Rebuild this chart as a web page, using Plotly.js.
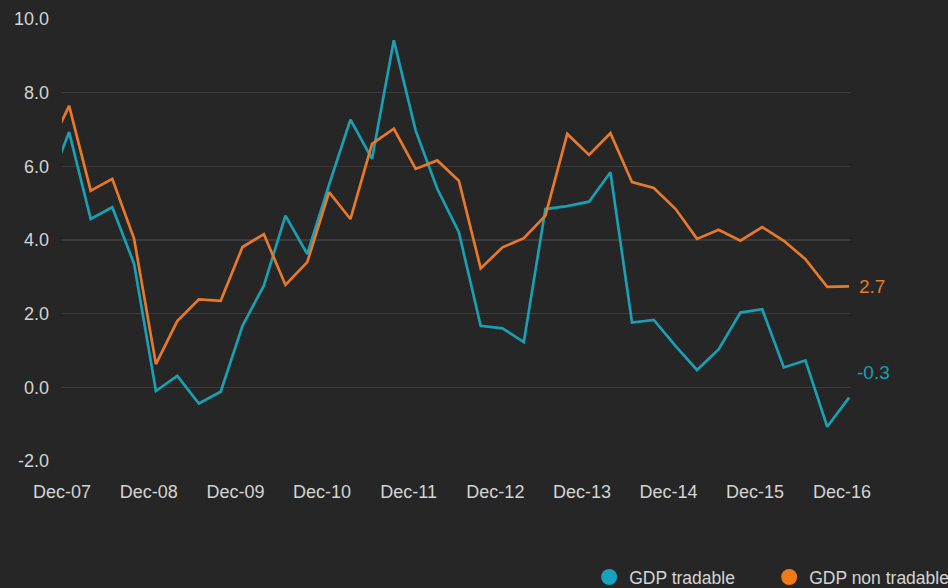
<!DOCTYPE html>
<html>
<head>
<meta charset="utf-8">
<script src="https://cdn.plot.ly/plotly-3.0.1.min.js"></script>
<style>
html,body{margin:0;padding:0;background:#262626;}
#chart{width:948px;height:588px;}
</style>
</head>
<body>
<div id="chart"></div>
<script>
// Quarter-end dates (first one lies just left of the visible range)
const dates = [
  '2007-09-30','2007-12-31',
  '2008-03-31','2008-06-30','2008-09-30','2008-12-31',
  '2009-03-31','2009-06-30','2009-09-30','2009-12-31',
  '2010-03-31','2010-06-30','2010-09-30','2010-12-31',
  '2011-03-31','2011-06-30','2011-09-30','2011-12-31',
  '2012-03-31','2012-06-30','2012-09-30','2012-12-31',
  '2013-03-31','2013-06-30','2013-09-30','2013-12-31',
  '2014-03-31','2014-06-30','2014-09-30','2014-12-31',
  '2015-03-31','2015-06-30','2015-09-30','2015-12-31',
  '2016-03-31','2016-06-30','2016-09-30','2016-12-31'
];
const gdpTradable = [
  5.4, 6.93,
  4.57, 4.89, 3.35, -0.10,
  0.31, -0.44, -0.12, 1.67,
  2.76, 4.66, 3.62, 5.5,
  7.27, 6.20, 9.42, 6.97,
  5.39, 4.21, 1.67, 1.60,
  1.23, 4.84, 4.92, 5.04,
  5.84, 1.76, 1.83, 1.12,
  0.47, 1.03, 2.03, 2.12,
  0.54, 0.73, -1.07, -0.28
];
const gdpNonTradable = [
  6.4, 7.64,
  5.34, 5.66, 4.03, 0.63,
  1.80, 2.39, 2.35, 3.81,
  4.16, 2.78, 3.40, 5.30,
  4.57, 6.61, 7.02, 5.93,
  6.16, 5.61, 3.23, 3.80,
  4.05, 4.66, 6.88, 6.31,
  6.90, 5.57, 5.41, 4.84,
  4.03, 4.28, 3.98, 4.35,
  3.98, 3.48, 2.73, 2.74
];
const seriesNames = ['GDP tradable', 'GDP non tradable'];
const tickDates = ['2007-12-01','2008-12-01','2009-12-01','2010-12-01','2011-12-01',
                   '2012-12-01','2013-12-01','2014-12-01','2015-12-01','2016-12-01'];
const tickLabels = ['Dec-07','Dec-08','Dec-09','Dec-10','Dec-11',
                    'Dec-12','Dec-13','Dec-14','Dec-15','Dec-16'];
const yTicks = [-2, 0, 2, 4, 6, 8, 10];
const yTickLabels = ['-2.0','0.0','2.0','4.0','6.0','8.0','10.0'];

const teal = '#1a9fb3';
const orange = '#e8792a';
const tealLegend = '#18a2bb';
const orangeLegend = '#f07a1a';
const FONT = 'Liberation Sans, Arial, sans-serif';

const last = dates.length - 1;

const traces = [
  {x: dates, y: gdpTradable, type: 'scatter', mode: 'lines', name: seriesNames[0],
   line: {color: teal, width: 2.7}, showlegend: false, hoverinfo: 'skip'},
  {x: dates, y: gdpNonTradable, type: 'scatter', mode: 'lines', name: seriesNames[1],
   line: {color: orange, width: 2.7}, showlegend: false, hoverinfo: 'skip'},
  // legend-only entries with round markers
  {x: [null], y: [null], type: 'scatter', mode: 'markers', name: seriesNames[0],
   marker: {color: tealLegend, size: 19, symbol: 'circle'}, hoverinfo: 'skip'},
  {x: [null], y: [null], type: 'scatter', mode: 'markers', name: seriesNames[1],
   marker: {color: orangeLegend, size: 19, symbol: 'circle'}, hoverinfo: 'skip'}
];

const layout = {
  width: 948, height: 588,
  paper_bgcolor: '#262626', plot_bgcolor: '#262626',
  margin: {l: 62, r: 98, t: 19, b: 127, autoexpand: false},
  font: {family: FONT, size: 18, color: '#d4d4d4'},
  showlegend: true,
  legend: {
    orientation: 'h', x: 0.669, xanchor: 'left', y: -0.222, yanchor: 'top',
    font: {family: FONT, size: 17.5, color: '#d4d4d4'},
    bgcolor: 'rgba(0,0,0,0)', entrywidth: 135, entrywidthmode: 'pixels',
    itemclick: false
  },
  xaxis: {
    type: 'date', range: ['2007-12-01', '2017-01-04'],
    tickvals: tickDates, ticktext: tickLabels,
    showgrid: false, zeroline: false, showline: false,
    ticks: '', ticklabelstandoff: 18,
    tickfont: {family: FONT, size: 18, color: '#d4d4d4'}
  },
  xaxis2: {
    type: 'date', overlaying: 'x', matches: 'x', anchor: 'free', position: 1/6,
    side: 'bottom', tickvals: tickDates, showticklabels: false,
    ticks: 'outside', ticklen: 4, tickwidth: 1, tickcolor: '#4a4a4a',
    showgrid: false, zeroline: false, showline: false
  },
  yaxis: {
    range: [-2, 10], tickvals: yTicks, ticktext: yTickLabels,
    showgrid: true, gridcolor: '#3c3c3c', gridwidth: 1.2,
    zeroline: true, zerolinecolor: '#3c3c3c', zerolinewidth: 1.2,
    showline: false, ticks: '', ticklabelstandoff: 12,
    tickfont: {family: FONT, size: 18, color: '#d4d4d4'}
  },
  annotations: [
    {x: dates[last], y: gdpNonTradable[last], xref: 'x', yref: 'y',
     text: gdpNonTradable[last].toFixed(1), showarrow: false,
     xanchor: 'left', yanchor: 'middle', xshift: 8, yshift: 0,
     font: {family: FONT, size: 19, color: orange}},
    {x: dates[last], y: gdpTradable[last], xref: 'x', yref: 'y',
     text: gdpTradable[last].toFixed(1), showarrow: false,
     xanchor: 'left', yanchor: 'middle', xshift: 6, yshift: 25,
     font: {family: FONT, size: 19, color: teal}}
  ]
};

Plotly.newPlot('chart', traces, layout, {staticPlot: true, displayModeBar: false});
</script>
</body>
</html>
